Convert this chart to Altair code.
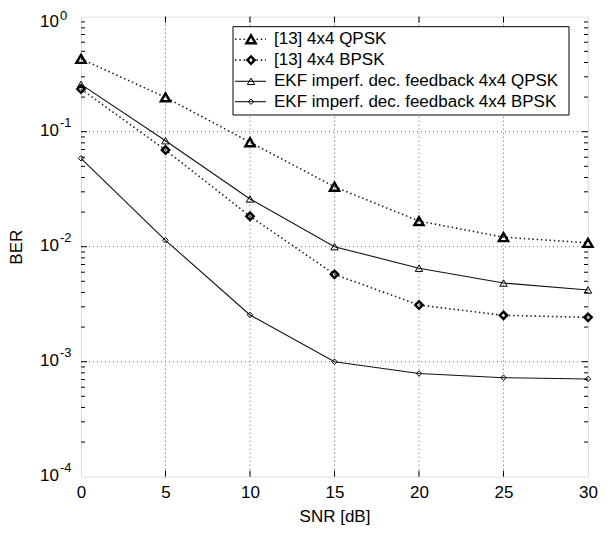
import altair as alt
import pandas as pd

# ---------------- data ----------------
snr = [0, 5, 10, 15, 20, 25, 30]
ref_qpsk = [0.43, 0.199, 0.081, 0.0332, 0.0167, 0.0121, 0.0108]
ref_bpsk = [0.235, 0.0693, 0.0184, 0.00575, 0.00311, 0.00253, 0.00243]
ekf_qpsk = [0.258, 0.0835, 0.026, 0.0100, 0.0065, 0.00483, 0.0042]
ekf_bpsk = [0.0587, 0.01136, 0.00255, 0.00100, 0.00079, 0.000726, 0.000708]

series_labels = [
    "[13] 4x4 QPSK",
    "[13] 4x4 BPSK",
    "EKF imperf. dec. feedback 4x4 QPSK",
    "EKF imperf. dec. feedback 4x4 BPSK",
]
series_values = [ref_qpsk, ref_bpsk, ekf_qpsk, ekf_bpsk]

x_ticks = [0, 5, 10, 15, 20, 25, 30]
x_grid = [5, 10, 15, 20, 25]
y_decades = [1, 0.1, 0.01, 0.001, 0.0001]
y_exps = ["0", "-1", "-2", "-3", "-4"]
y_grid = [0.1, 0.01, 0.001]
y_minor = [k * d for d in [1e-4, 1e-3, 1e-2, 1e-1] for k in range(2, 10)]

# ---------------- styling ----------------
W, H = 507, 460
FONT = "Liberation Sans"
FS = 17

styles = [
    dict(dash=[1.5, 2.8], lw=1.6, color="#222222", shape="triangle-up", size=85, sw=2.4),
    dict(dash=[1.5, 2.8], lw=1.6, color="#222222", shape="diamond", size=55, sw=2.4),
    dict(dash=None, lw=1.1, color="#111111", shape="triangle-up", size=55, sw=1.0),
    dict(dash=None, lw=1.1, color="#111111", shape="diamond", size=30, sw=1.0),
]

xs = alt.Scale(domain=[0, 30], nice=False, zero=False)
ys = alt.Scale(type="log", domain=[1e-4, 1], nice=False)

X_AXIS = alt.Axis(
    values=x_ticks, labelFontSize=FS, labelFont=FONT, labelColor="black",
    labelPadding=8, labelFlush=False, ticks=False, domain=False, grid=False,
    title="SNR [dB]", titleFont=FONT, titleFontSize=FS, titleFontWeight="normal",
    titleColor="black", titleY=32, titleBaseline="top",
)
Y_AXIS = alt.Axis(
    labels=False, ticks=False, domain=False, grid=False,
    title="BER", titleFont=FONT, titleFontSize=FS, titleFontWeight="normal",
    titleColor="black", titleX=-56, titleY=H / 2,
)


def X():
    return alt.X("snr:Q", scale=xs, axis=X_AXIS)


def Y():
    return alt.Y("ber:Q", scale=ys, axis=Y_AXIS)


layers = []

# grid
gx = pd.DataFrame({"snr": x_grid})
gy = pd.DataFrame({"ber": y_grid})
grid_kw = dict(color="#666666", strokeDash=[1, 3], strokeWidth=1)
layers.append(alt.Chart(gx).mark_rule(**grid_kw).encode(x=X(), y=alt.value(0), y2=alt.value(H)))
layers.append(alt.Chart(gy).mark_rule(**grid_kw).encode(y=Y(), x=alt.value(0), x2=alt.value(W)))

# inward ticks
tx = pd.DataFrame({"snr": x_ticks[1:-1]})
tmaj = pd.DataFrame({"ber": y_decades[1:-1]})
tmin = pd.DataFrame({"ber": y_minor})
tk = dict(color="black", strokeWidth=1)
layers.append(alt.Chart(tx).mark_rule(**tk).encode(x=X(), y=alt.value(H), y2=alt.value(H - 6)))
layers.append(alt.Chart(tx).mark_rule(**tk).encode(x=X(), y=alt.value(0), y2=alt.value(6)))
layers.append(alt.Chart(tmaj).mark_rule(**tk).encode(y=Y(), x=alt.value(0), x2=alt.value(6)))
layers.append(alt.Chart(tmaj).mark_rule(**tk).encode(y=Y(), x=alt.value(W - 6), x2=alt.value(W)))
layers.append(alt.Chart(tmin).mark_rule(**tk).encode(y=Y(), x=alt.value(0), x2=alt.value(4)))
layers.append(alt.Chart(tmin).mark_rule(**tk).encode(y=Y(), x=alt.value(W - 4), x2=alt.value(W)))

# series
for vals, st in zip(series_values, styles):
    df = pd.DataFrame({"snr": snr, "ber": vals})
    line_kw = dict(color=st["color"], strokeWidth=st["lw"])
    if st["dash"]:
        line_kw["strokeDash"] = st["dash"]
    layers.append(alt.Chart(df).mark_line(**line_kw).encode(x=X(), y=Y()))
    layers.append(
        alt.Chart(df).mark_point(
            shape=st["shape"], size=st["size"], filled=False, color="black",
            strokeWidth=st["sw"], opacity=1,
        ).encode(x=X(), y=Y())
    )

# y tick labels (10 with superscript exponent); the top one is nudged down to stay inside the page
yl = pd.DataFrame({"ber": y_decades[1:], "exp": y_exps[1:]})
yl_top = pd.DataFrame({"ber": y_decades[:1], "exp": y_exps[:1]})
for d, dy10, dyexp in [(yl, -1, -9), (yl_top, 5, -1)]:
    layers.append(
        alt.Chart(d).mark_text(font=FONT, fontSize=FS, align="right", baseline="middle", dy=dy10, color="black")
        .encode(y=Y(), x=alt.value(-22), text=alt.value("10"))
    )
    layers.append(
        alt.Chart(d).mark_text(font=FONT, fontSize=13, align="left", baseline="middle", dy=dyexp, color="black")
        .encode(y=Y(), x=alt.value(-21), text="exp:N")
    )

# legend
one = pd.DataFrame({"a": [0]})
layers.append(
    alt.Chart(one).mark_rect(fill="white", stroke="black", strokeWidth=1)
    .encode(x=alt.value(152), x2=alt.value(488), y=alt.value(10), y2=alt.value(98.3))
)
row_y = [22.6, 43.4, 64.6, 85]
for lab, st, ry in zip(series_labels, styles, row_y):
    line_kw = dict(color=st["color"], strokeWidth=st["lw"])
    if st["dash"]:
        line_kw["strokeDash"] = st["dash"]
    layers.append(
        alt.Chart(one).mark_rule(**line_kw)
        .encode(x=alt.value(154), x2=alt.value(185), y=alt.value(ry))
    )
    layers.append(
        alt.Chart(one).mark_point(
            shape=st["shape"], size=st["size"], filled=False, color="black",
            strokeWidth=st["sw"], opacity=1,
        ).encode(x=alt.value(170), y=alt.value(ry))
    )
    layers.append(
        alt.Chart(one).mark_text(font=FONT, fontSize=FS, align="left", baseline="middle", color="black")
        .encode(x=alt.value(193), y=alt.value(ry), text=alt.value(lab))
    )

chart = (
    alt.layer(*layers)
    .properties(
        width=W, height=H,
        autosize=alt.AutoSizeParams(type="none"),
        padding={"left": 73, "top": 8.7, "right": 13, "bottom": 50},
    )
    .configure_view(stroke="black", strokeWidth=1.2)
    .configure(background="white")
)

chart.save("out.html", embed_options={"renderer": "svg", "actions": False})
